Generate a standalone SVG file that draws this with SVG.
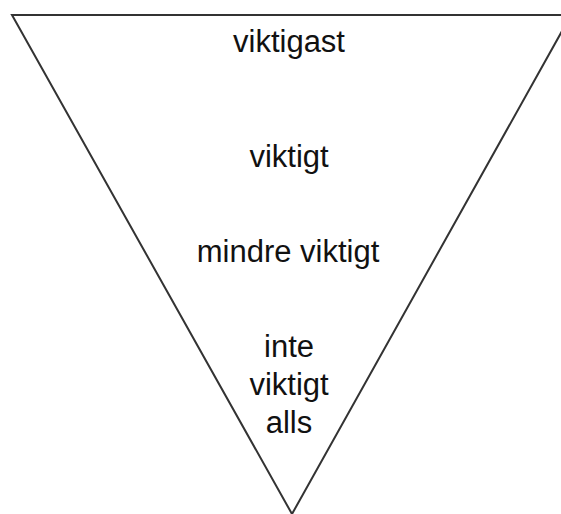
<svg xmlns="http://www.w3.org/2000/svg" width="561" height="514" viewBox="0 0 561 514">
  <style>
    .funnel { fill: none; stroke: #333; stroke-width: 2; stroke-linejoin: miter; }
    .label { font-family: "Liberation Sans", Arial, sans-serif; font-size: 31px; fill: #111; text-anchor: middle; }
  </style>
  <rect width="561" height="514" fill="#fff"/>
  <g id="funnel">
    <polygon class="funnel" points="12,15 571,15 292,514"/>
  </g>
  <g id="level-1">
    <text class="label" x="289" y="52">viktigast</text>
  </g>
  <g id="level-2">
    <text class="label" x="289" y="167">viktigt</text>
  </g>
  <g id="level-3">
    <text class="label" x="288" y="262">mindre viktigt</text>
  </g>
  <g id="level-4">
    <text class="label" x="289" y="357">inte</text>
    <text class="label" x="289" y="395">viktigt</text>
    <text class="label" x="289" y="433">alls</text>
  </g>
</svg>
